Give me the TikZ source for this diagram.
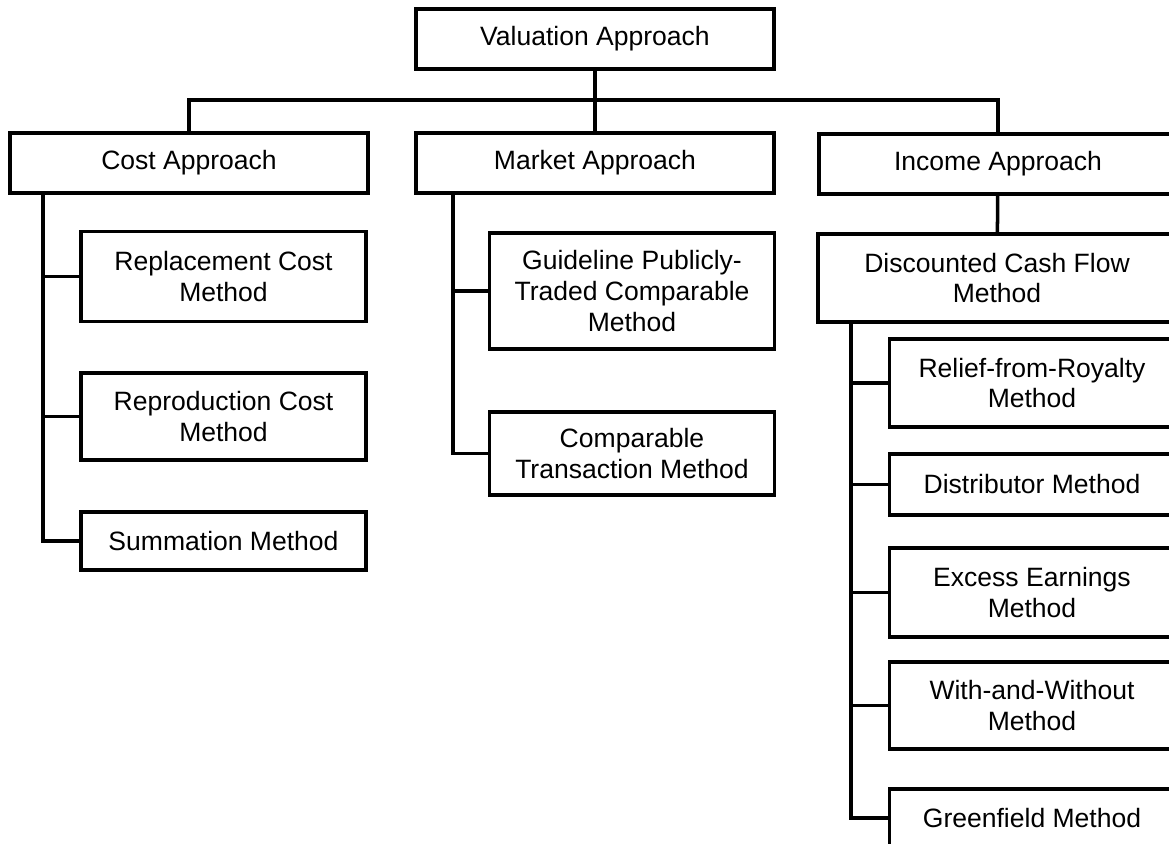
\documentclass[tikz,border=0pt]{standalone}
\usepackage{fontspec}
\setmainfont{Liberation Sans}

\begin{document}
\begin{tikzpicture}[x=0.02cm,y=-0.02cm,
	box/.style={draw,line width=2pt,align=center,inner sep=0pt,
		font=\fontsize{15.1pt}{17.5pt}\selectfont},
	approach/.style={box,minimum width=7.16cm,minimum height=1.2cm},
	method/.style={box,minimum width=5.7cm},
	link/.style={line width=2pt}]
			\useasboundingbox (0,0) rectangle (1169,844);
			\clip (0,0) rectangle (1169,844);

			% Place nodes
			\node [approach] (val) at (595,39) {Valuation Approach};
			\node [approach] (cost) at (189,163) {Cost Approach};
			\node [approach] (mkt) at (595,163) {Market Approach};
			\node [approach] (inc) at (998,164) {Income Approach};
			\node [approach,minimum height=1.76cm] (dcf) at (997,278) {Discounted Cash Flow\\Method};

			\node [method,minimum height=1.8cm] (repl) at (223.5,276.5) {Replacement Cost\\Method};
			\node [method,minimum height=1.74cm] (repr) at (223.5,416.5) {Reproduction Cost\\Method};
			\node [method,minimum height=1.16cm] (summ) at (223.5,541) {Summation Method};

			\node [method,minimum height=2.32cm] (gptc) at (632,291) {Guideline Publicly-\\Traded Comparable\\Method};
			\node [method,minimum height=1.66cm] (ctm) at (632,453.5) {Comparable\\Transaction Method};

			\node [method,minimum height=1.76cm] (rfr) at (1032,383) {Relief-from-Royalty\\Method};
			\node [method,minimum height=1.22cm] (dist) at (1032,484.5) {Distributor Method};
			\node [method,minimum height=1.78cm] (eem) at (1032,592.5) {Excess Earnings\\Method};
			\node [method,minimum height=1.74cm] (waw) at (1032,705.5) {With-and-Without\\Method};
			\node [method,minimum height=1.16cm] (green) at (1032,818) {Greenfield Method};

			% Trunks and bus
			\coordinate (bus) at (595,100);
			\coordinate (costtrunk) at (43,193);
			\coordinate (mkttrunk) at (453,193);
			\coordinate (inctrunk) at (851,322);

			\draw [link] (val) -- (mkt);
			\draw [link] (cost.north) |- (bus) -| (inc.north);
			\draw [link] (inc) -- (dcf);

			\foreach \c in {repl,repr,summ}
				\draw [link] (costtrunk) |- (\c.west);
			\foreach \c in {gptc,ctm}
				\draw [link] (mkttrunk) |- (\c.west);
			\foreach \c in {rfr,dist,eem,waw,green}
				\draw [link] (inctrunk) |- (\c.west);
\end{tikzpicture}
\end{document}
